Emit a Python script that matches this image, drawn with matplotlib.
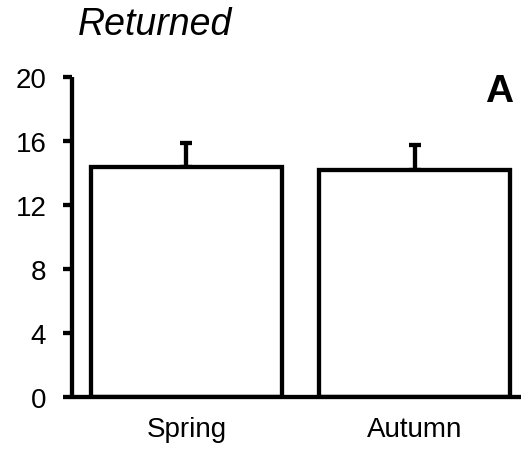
import numpy as np
import matplotlib
matplotlib.use('Agg')
import matplotlib.pyplot as plt

plt.rcParams['font.family'] = ['Liberation Sans', 'DejaVu Sans']

seasons = ['Spring', 'Autumn']
means = [14.35, 14.2]
errors = [1.5, 1.55]
yticks = [0, 4, 8, 12, 16, 20]

fig = plt.figure(figsize=(5.21, 4.52), dpi=100)
ax = fig.add_axes([72/521, 1 - 398/452, 1 - 72/521, (398 - 78)/452])

x = np.arange(len(seasons))
lw = 3.1
ax.bar(x, means, width=0.84, color='white', edgecolor='black', linewidth=lw, zorder=2)
ax.errorbar(x, means, yerr=[np.zeros(len(errors)), errors], fmt='none', ecolor='black',
            elinewidth=lw, capsize=4, capthick=lw, zorder=1)

ax.set_ylim(0, 20)
ax.set_xlim(-0.502, 1.467)
ax.set_yticks(yticks)
ax.set_xticks(x)
ax.set_xticklabels(seasons)

for side in ['top', 'right']:
    ax.spines[side].set_visible(False)
for side in ['left', 'bottom']:
    ax.spines[side].set_linewidth(lw)
    ax.spines[side].set_capstyle('butt')

ax.tick_params(axis='y', direction='out', length=6.5, width=lw, labelsize=20, pad=12)
ax.tick_params(axis='x', length=0, labelsize=20, pad=14)

fig.text(78/521, 1 - 35/452, 'Returned', fontsize=27, fontstyle='italic', ha='left', va='baseline')
fig.text(499/521, 1 - 102/452, 'A', fontsize=28, fontweight='bold', ha='center', va='baseline')

plt.savefig('out.png', dpi=100)
